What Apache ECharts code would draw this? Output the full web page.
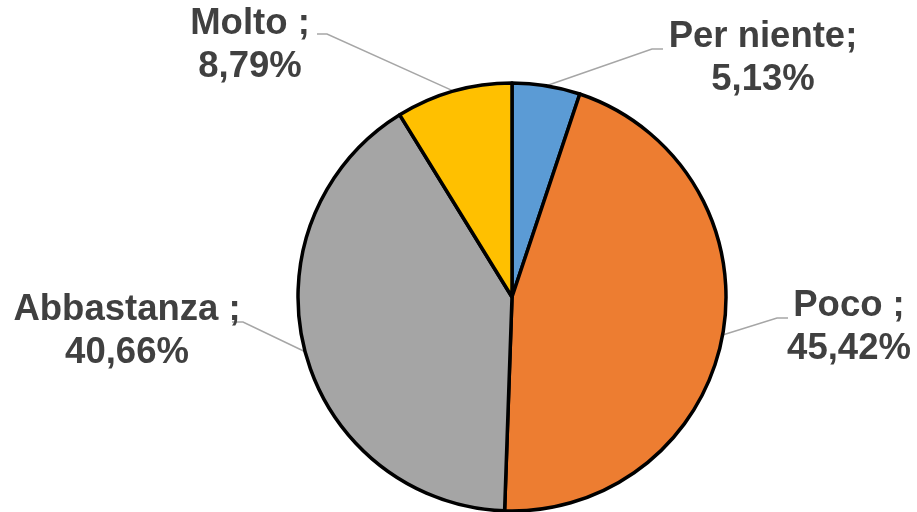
<!DOCTYPE html>
<html>
<head>
<meta charset="utf-8">
<script src="https://cdn.jsdelivr.net/npm/echarts@6/dist/echarts.min.js"></script>
<style>
  html, body { margin: 0; padding: 0; background: #fff; }
  #chart { width: 917px; height: 512px; }
</style>
</head>
<body>
<div id="chart"></div>
<script>
// dati
var categorie = ['Per niente;', 'Poco ;', 'Abbastanza ;', 'Molto ;']
var percentuali = [5.13, 45.42, 40.66, 8.79]
var colori = ['#5B9BD5', '#ED7D31', '#A5A5A5', '#FFC000']

// dove stanno le etichette (centro del testo) e il gomito della linea guida
var posEtichette = [
  {x: 763, y: 58, gomito: [652, 49], fine: [663, 49]},
  {x: 849, y: 327, gomito: [777, 318], fine: [788, 318]},
  {x: 127, y: 331, gomito: [243, 322], fine: [232, 322]},
  {x: 250, y: 45, gomito: [327, 34], fine: [317, 34]}
]

var dati = categorie.map(function (c, i) {
  return {name: c, value: percentuali[i], itemStyle: {color: colori[i]}}
})

var myChart = echarts.init(document.getElementById('chart'))
var option = {
  backgroundColor: '#ffffff',
  animation: false,
  series: [
    {
      type: 'pie',
      center: [512, 297],
      radius: 214,
      startAngle: 90,
      clockwise: true,
      data: dati,
      itemStyle: {
        borderColor: '#000000',
        borderWidth: 3.5
      },
      label: {
        show: true,
        position: 'outside',
        formatter: function (p) {
          return p.name + '\n' + p.value.toFixed(2).replace('.', ',') + '%'
        },
        color: '#404040',
        fontFamily: 'Liberation Sans, Arial, sans-serif',
        fontWeight: 'bold',
        fontSize: 36.5,
        lineHeight: 43,
        align: 'center'
      },
      labelLine: {
        show: true,
        length: 20,
        length2: 10,
        lineStyle: {color: '#A6A6A6', width: 1.5}
      },
      labelLayout: function (params) {
        var p = posEtichette[params.dataIndex]
        var inizio = params.labelLinePoints ? params.labelLinePoints[0] : p.gomito
        return {
          x: p.x,
          y: p.y,
          align: 'center',
          verticalAlign: 'middle',
          labelLinePoints: [inizio, p.gomito, p.fine]
        }
      }
    }
  ]
}
myChart.setOption(option)
</script>
</body>
</html>
